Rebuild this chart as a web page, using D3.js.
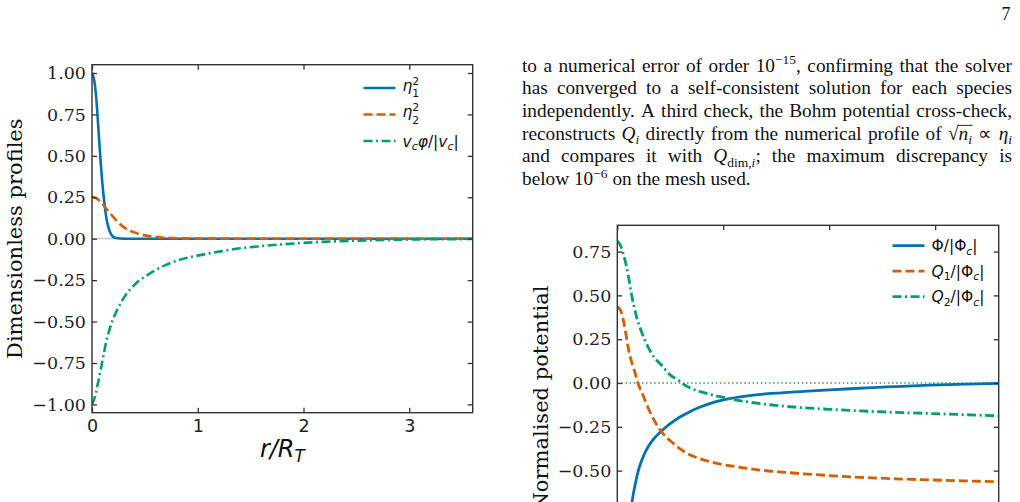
<!DOCTYPE html>
<html>
<head>
<meta charset="utf-8">
<script src="https://cdn.jsdelivr.net/npm/d3@7"></script>
<style>
  body { margin: 0; background: #fff; overflow: hidden; }
  #page { position: relative; width: 1020px; height: 502px; }
  svg { position: absolute; left: 0; top: 0; }
</style>
</head>
<body>
<div id="page"></div>
<script>
// Two radial profile panels (densities / velocity, potentials) plus the page text around them

// ---- left panel data ----
const eta1R = [0, 0.02, 0.04, 0.06, 0.08, 0.10, 0.12, 0.14, 0.16, 0.18, 0.20, 0.23, 0.27, 0.32, 0.5, 1.0, 2.0, 3.6];
const eta1Sq = [1.0, 0.96, 0.85, 0.67, 0.48, 0.32, 0.20, 0.11, 0.058, 0.028, 0.012, 0.004, 0.001, 0, 0, 0, 0, 0];

const eta2R = [0, 0.05, 0.1, 0.15, 0.2, 0.25, 0.3, 0.4, 0.5, 0.6, 0.75, 1.0, 1.5, 3.6];
const eta2Sq = [0.253, 0.24, 0.208, 0.17, 0.132, 0.097, 0.07, 0.038, 0.02, 0.011, 0.004, 0.001, 0, 0];

const velR = [0, 0.02, 0.04, 0.06, 0.085, 0.11, 0.135, 0.16, 0.19, 0.23, 0.28, 0.33, 0.4, 0.45, 0.5, 0.58, 0.7, 0.8, 0.9, 1.0, 1.2, 1.4, 1.6, 1.8, 2.0, 2.3, 2.6, 3.0, 3.6];
const velPhi = [-1.0, -0.97, -0.92, -0.86, -0.78, -0.70, -0.62, -0.56, -0.50, -0.44, -0.38, -0.33, -0.28, -0.25, -0.23, -0.197, -0.158, -0.133, -0.115, -0.102, -0.078, -0.058, -0.045, -0.034, -0.025, -0.016, -0.010, -0.005, -0.002];

// ---- right panel data ----
const phiR = [0, 0.05, 0.1, 0.139, 0.17, 0.2, 0.235, 0.265, 0.3, 0.35, 0.42, 0.5, 0.58, 0.68, 0.77, 0.88, 0.99, 1.18, 1.35, 1.55, 1.73, 2.0, 2.29, 2.6, 2.95, 3.3, 3.6];
const phiNorm = [-1.0, -0.97, -0.84, -0.677, -0.575, -0.497, -0.435, -0.393, -0.355, -0.315, -0.272, -0.232, -0.198, -0.165, -0.14, -0.116, -0.098, -0.078, -0.065, -0.056, -0.049, -0.039, -0.030, -0.021, -0.012, -0.006, -0.002];

const q1R = [0, 0.03, 0.06, 0.085, 0.108, 0.13, 0.155, 0.18, 0.195, 0.25, 0.297, 0.35, 0.42, 0.5, 0.58, 0.67, 0.77, 0.88, 0.99, 1.16, 1.35, 1.55, 1.73, 2.0, 2.29, 2.6, 2.95, 3.3, 3.6];
const q1Norm = [0.435, 0.415, 0.35, 0.265, 0.185, 0.13, 0.085, 0.03, 0.0, -0.08, -0.15, -0.215, -0.28, -0.33, -0.37, -0.405, -0.43, -0.45, -0.465, -0.481, -0.497, -0.508, -0.517, -0.528, -0.538, -0.546, -0.553, -0.559, -0.563];

const q2R = [0, 0.03, 0.06, 0.085, 0.108, 0.13, 0.155, 0.185, 0.218, 0.26, 0.297, 0.35, 0.42, 0.5, 0.58, 0.61, 0.7, 0.8, 0.895, 1.0, 1.18, 1.35, 1.55, 1.75, 2.0, 2.29, 2.6, 2.95, 3.3, 3.6];
const q2Norm = [0.81, 0.785, 0.73, 0.67, 0.60, 0.52, 0.445, 0.37, 0.31, 0.245, 0.198, 0.145, 0.1, 0.045, 0.015, 0.0, -0.032, -0.052, -0.068, -0.082, -0.103, -0.118, -0.131, -0.141, -0.150, -0.159, -0.167, -0.174, -0.181, -0.188];

// ---- ticks ----
const xTicks = [0, 1, 2, 3];
const leftYTicks = [-1, -0.75, -0.5, -0.25, 0, 0.25, 0.5, 0.75, 1];
const rightYTicks = [-0.5, -0.25, 0, 0.25, 0.5, 0.75];

// ---- legend labels (math parts) ----
const leftLabels = [
  [{ t: "η", i: true }, { t: "1", s: "sub", stack: true }, { t: "2", s: "sup" }],
  [{ t: "η", i: true }, { t: "2", s: "sub", stack: true }, { t: "2", s: "sup" }],
  [{ t: "v", i: true }, { t: "c", i: true, s: "sub" }, { t: "φ", i: true }, { t: "/|" }, { t: "v", i: true }, { t: "c", i: true, s: "sub" }, { t: "|" }]
];
const rightLabels = [
  [{ t: "Φ/|Φ" }, { t: "c", i: true, s: "sub" }, { t: "|" }],
  [{ t: "Q", i: true }, { t: "1", s: "sub" }, { t: "/|Φ" }, { t: "c", i: true, s: "sub" }, { t: "|" }],
  [{ t: "Q", i: true }, { t: "2", s: "sub" }, { t: "/|Φ" }, { t: "c", i: true, s: "sub" }, { t: "|" }]
];

// ---- page text, one entry per printed line ----
const paraLines = [
  ["to", "a", "numerical", "error", "of", "order", [{ t: "10" }, { t: "−15", s: "sup" }, { t: "," }], "confirming", "that", "the", "solver"],
  ["has", "converged", "to", "a", "self-consistent", "solution", "for", "each", "species"],
  ["independently.", "A", "third", "check,", "the", "Bohm", "potential", "cross-check,"],
  ["reconstructs", [{ t: "Q", i: true }, { t: "i", i: true, s: "sub" }], "directly", "from", "the", "numerical", "profile", "of",
    [{ t: "√" }, { t: "n", i: true, over: true }, { t: "i", i: true, s: "sub", over: true }], "∝", [{ t: "η", i: true }, { t: "i", i: true, s: "sub" }]],
  ["and", "compares", "it", "with", [{ t: "Q", i: true }, { t: "dim,", s: "sub" }, { t: "i", i: true, s: "sub" }, { t: ";" }], "the", "maximum", "discrepancy", "is"],
  ["below", [{ t: "10" }, { t: "−6", s: "sup" }], "on", "the", "mesh", "used."]
];

const blue = "#0072B2", orange = "#D55E00", green = "#009E73";
const styles = [
  { color: blue, dash: null },
  { color: orange, dash: "9,4" },
  { color: green, dash: "9,3.5,2,3.5" }
];

const svg = d3.select("#page").append("svg").attr("width", 1020).attr("height", 502);

// draws a row of math text segments at (x, baseline y), returns {g, width}
function mathText(parent, x, y, size, parts, family = "DejaVu Sans") {
  const g = parent.append("g");
  let cx = x, held = 0, overStart = null, overEnd = null;
  parts.forEach(p => {
    const fs = p.s ? size * 0.7 : size;
    let shift = 0;
    if (p.s === "sub") shift = p.stack ? size * 0.42 : size * 0.22;
    if (p.s === "sup") shift = -size * 0.38;
    const t = g.append("text")
      .attr("x", cx).attr("y", y + shift)
      .attr("font-family", family)
      .attr("font-style", p.i ? "italic" : "normal")
      .attr("font-size", fs)
      .attr("fill", "#111")
      .text(p.t);
    const w = t.node().getComputedTextLength();
    if (p.over) { if (overStart === null) overStart = cx; overEnd = cx + w; }
    if (p.stack) { held = w; }
    else { cx += Math.max(w, held); held = 0; }
  });
  if (overStart !== null) {
    g.append("line")
      .attr("x1", overStart - 1).attr("x2", overEnd + 0.5)
      .attr("y1", y - size * 0.74).attr("y2", y - size * 0.74)
      .attr("stroke", "#111").attr("stroke-width", 0.9);
  }
  return { g, width: cx - x };
}

// justified paragraph drawn word by word
function paragraph(lines, left, width, top, step, size) {
  const g = svg.append("g");
  const family = "Liberation Serif";
  lines.forEach((words, li) => {
    const base = top + li * step;
    const built = words.map(w => mathText(g, 0, base, size, typeof w === "string" ? [{ t: w }] : w, family));
    const total = d3.sum(built, b => b.width);
    const last = li === lines.length - 1;
    const gap = last ? size * 0.25 : (width - total) / (words.length - 1);
    let cx = left;
    built.forEach(b => {
      b.g.attr("transform", `translate(${cx},0)`);
      cx += b.width + gap;
    });
  });
}

function panel(o) {
  const x = d3.scaleLinear().domain([0, 3.6]).range([o.left, o.right]);
  const y = d3.scaleLinear().domain(o.yDomain).range([o.bottom, o.top]);
  const g = svg.append("g");

  g.append("clipPath").attr("id", o.id)
    .append("rect")
    .attr("x", o.left).attr("y", o.top)
    .attr("width", o.right - o.left).attr("height", o.bottom - o.top);

  // zero reference line
  g.append("line")
    .attr("x1", x(0)).attr("x2", x(3.6))
    .attr("y1", y(0)).attr("y2", y(0))
    .attr("stroke", o.zeroColor)
    .attr("stroke-width", o.zeroWidth)
    .attr("stroke-dasharray", o.zeroDash);

  const line = d3.line()
    .x(d => x(d[0]))
    .y(d => y(d[1]))
    .curve(d3.curveMonotoneX);

  // curves
  g.append("g").attr("clip-path", `url(#${o.id})`)
    .selectAll("path")
    .data(o.series)
    .join("path")
    .attr("fill", "none")
    .attr("stroke", (d, i) => styles[i].color)
    .attr("stroke-width", o.lineWidth)
    .attr("stroke-dasharray", (d, i) => styles[i].dash)
    .attr("d", d => line(d3.zip(d[0], d[1])));

  // axes with inward ticks
  const styleAxis = (sel, family, size) => {
    sel.select(".domain").remove();
    sel.attr("font-family", family).attr("font-size", size).attr("color", "#222");
    sel.selectAll(".tick line").attr("stroke", "#333").attr("stroke-width", 1.3);
  };

  g.append("g")
    .attr("transform", `translate(0,${o.bottom})`)
    .call(d3.axisBottom(x).tickValues(xTicks).tickFormat(o.xLabel ? d3.format("d") : "").tickSize(-5).tickPadding(6.5))
    .call(s => styleAxis(s, "DejaVu Sans", 17.5));
  g.append("g")
    .attr("transform", `translate(0,${o.top})`)
    .call(d3.axisTop(x).tickValues(xTicks).tickFormat("").tickSize(-5))
    .call(s => styleAxis(s, "DejaVu Sans", 17.5));
  g.append("g")
    .attr("transform", `translate(${o.left},0)`)
    .call(d3.axisLeft(y).tickValues(o.yTicks).tickFormat(d3.format(".2f")).tickSize(-5).tickPadding(6))
    .call(s => styleAxis(s, "DejaVu Serif", 17.5));
  g.append("g")
    .attr("transform", `translate(${o.right},0)`)
    .call(d3.axisRight(y).tickValues(o.yTicks).tickFormat("").tickSize(-5))
    .call(s => styleAxis(s, "DejaVu Serif", 17.5));

  // frame
  g.append("rect")
    .attr("x", o.left).attr("y", o.top)
    .attr("width", o.right - o.left).attr("height", o.bottom - o.top)
    .attr("fill", "none").attr("stroke", "#333").attr("stroke-width", 1.4);

  // y label
  g.append("text")
    .attr("transform", `translate(${o.yLabelX},${o.yLabelY}) rotate(-90)`)
    .attr("text-anchor", "middle")
    .attr("font-family", "DejaVu Serif")
    .attr("font-size", 21)
    .attr("fill", "#111")
    .text(o.yLabel);

  // x label
  if (o.xLabel) {
    const lab = mathText(g, 0, o.xLabelY, 24, o.xLabel);
    lab.g.attr("transform", `translate(${(o.left + o.right) / 2 - lab.width / 2},0)`);
  }

  // legend
  o.labels.forEach((parts, i) => {
    const ly = o.legendY + i * o.legendStep;
    g.append("line")
      .attr("x1", o.legendX).attr("x2", o.legendX + 32)
      .attr("y1", ly).attr("y2", ly)
      .attr("stroke", styles[i].color)
      .attr("stroke-width", o.lineWidth)
      .attr("stroke-dasharray", styles[i].dash);
    const hasSup = parts.some(p => p.s === "sup");
    mathText(g, o.legendX + 39, ly + (hasSup ? 2.5 : 5.5), 15.5, parts);
  });
}

panel({
  id: "clipL", left: 92, right: 472.7, top: 64.7, bottom: 412.7,
  yDomain: [-1.05, 1.05], yTicks: leftYTicks,
  series: [[eta1R, eta1Sq], [eta2R, eta2Sq], [velR, velPhi]],
  lineWidth: 2.6, zeroColor: "#c4c4c4", zeroWidth: 1.3, zeroDash: null,
  yLabel: "Dimensionless profiles", yLabelX: 22, yLabelY: 238.7,
  xLabel: [{ t: "r", i: true }, { t: "/", i: true }, { t: "R", i: true }, { t: "T", i: true, s: "sub" }], xLabelY: 457,
  labels: leftLabels, legendX: 363.5, legendY: 88, legendStep: 26.5
});

panel({
  id: "clipR", left: 617.3, right: 998.7, top: 225.3, bottom: 567,
  yDomain: [-1.05, 0.9], yTicks: rightYTicks,
  series: [[phiR, phiNorm], [q1R, q1Norm], [q2R, q2Norm]],
  lineWidth: 2.8, zeroColor: "#4f8f4f", zeroWidth: 1.5, zeroDash: "1.5,2.6",
  yLabel: "Normalised potential", yLabelX: 548, yLabelY: 398,
  xLabel: null,
  labels: rightLabels, legendX: 892.5, legendY: 245.7, legendStep: 25.5
});

paragraph(paraLines, 522, 490, 71.7, 22.66, 19.3);

// page number
svg.append("text")
  .attr("x", 1010.5).attr("y", 20)
  .attr("text-anchor", "end")
  .attr("font-family", "Liberation Serif")
  .attr("font-size", 18)
  .attr("fill", "#111")
  .text("7");
</script>
</body>
</html>
